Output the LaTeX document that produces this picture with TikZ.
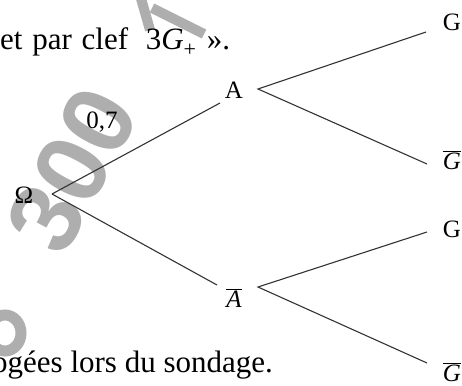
\documentclass[tikz,border=0pt]{standalone}
\usepackage{fontspec}
\setmainfont{Liberation Serif}
\newfontfamily\wmfont{Liberation Sans}
\definecolor{wm}{HTML}{AEAEAE}
\definecolor{ln}{HTML}{333333}
\newcommand{\barit}[1]{$\overline{\mbox{\itshape #1}}$}
\begin{document}
\begin{tikzpicture}[x=1pt,y=-1pt,
  lbl/.style={inner sep=0pt,font=\fontsize{25}{27}\selectfont},
  body/.style={inner sep=0pt,anchor=base west,font=\fontsize{31}{34}\selectfont},
  edge/.style={draw=ln,line width=1.1pt},
  wmark/.style={inner sep=0pt,text=wm,font=\wmfont\bfseries\fontsize{100}{100}\selectfont}]
\useasboundingbox[fill=white] (0,0) rectangle (462,385);
% watermark
\node[wmark,rotate=62] (wm) at (72,170) {300};
\draw[wm,line width=11pt] (5,333) circle[x radius=16pt,y radius=18pt];
\draw[wm,line width=10pt] (140,-5) -- (150,30);
\draw[wm,line width=10pt] (152,8) -- (204,34);
% text
\node[body] (t1) at (0,50) {et\hspace{2pt} par\hspace{2pt} clef\hspace{10pt} 3\textit{G}\raisebox{-0.22em}{\fontsize{22}{22}\selectfont +}\hspace{3pt} ».};
\node[body] (t2) at (-8,372) {ogées lors du sondage.};
% tree
\node[lbl] (O) at (24,195) {Ω};
\node[lbl] (A) at (234,90) {A};
\node[lbl] (Ab) at (234,298) {\barit{A}};
\node[lbl] (G1) at (452,22) {G};
\node[lbl] (G1b) at (452,160) {\barit{G}};
\node[lbl] (G2) at (452,229) {G};
\node[lbl] (G2b) at (452,372) {\barit{G}};
\node[lbl] (p) at (102,122) {0,7};
\coordinate (o) at (52,194);
\coordinate (a1) at (220,103);
\coordinate (a2) at (258,89);
\coordinate (b1) at (217,285);
\coordinate (b2) at (258,287);
\coordinate (g1) at (426,32);
\coordinate (g2) at (427,164);
\coordinate (g3) at (427,232);
\coordinate (g4) at (427,363);
\draw[edge] (o) -- (a1);
\draw[edge] (o) -- (b1);
\draw[edge] (g1) -- (a2) -- (g2);
\draw[edge] (g3) -- (b2) -- (g4);
\end{tikzpicture}
\end{document}
